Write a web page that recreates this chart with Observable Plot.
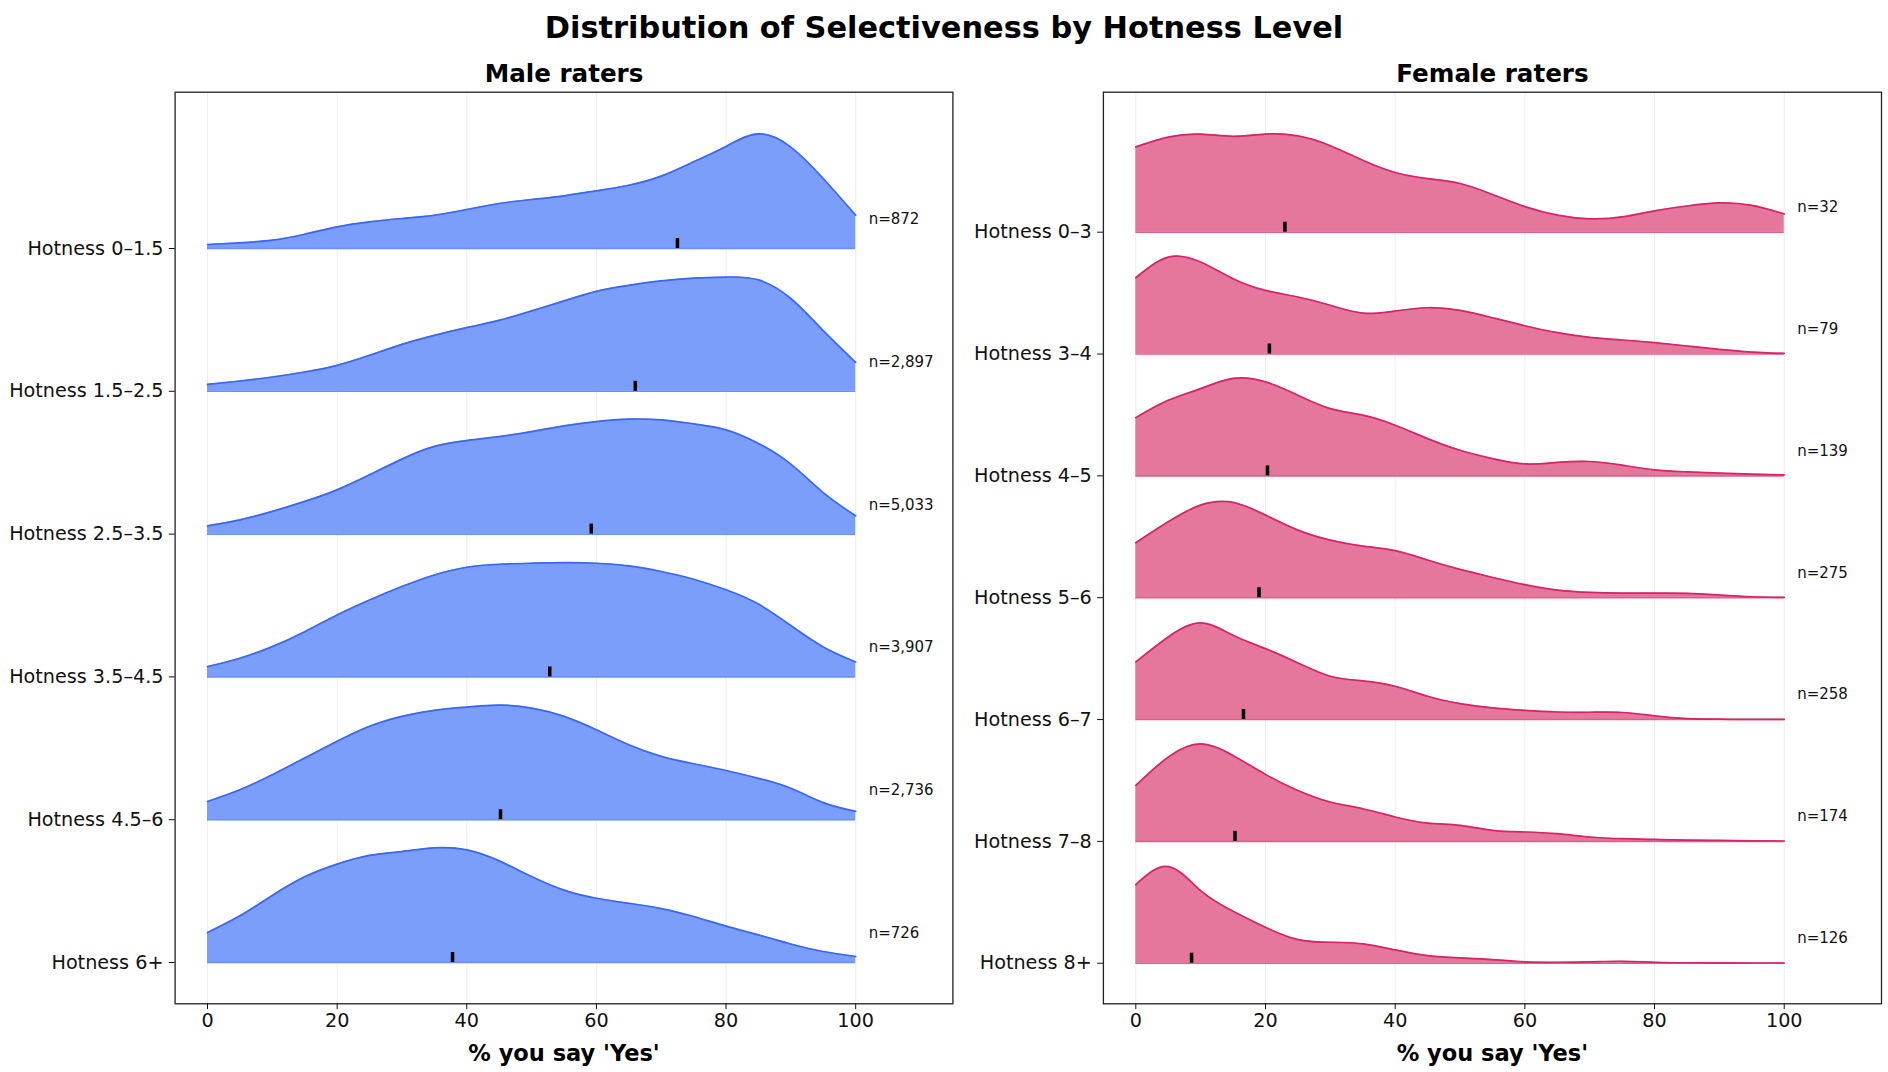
<!DOCTYPE html>
<html><head><meta charset="utf-8">
<script src="https://cdn.jsdelivr.net/npm/d3@7"></script>
<script src="https://cdn.jsdelivr.net/npm/@observablehq/plot@0.6"></script>
<style>
html,body{margin:0;padding:0;background:#fff;}
#wrap{position:relative;width:1888px;height:1072px;font-family:"DejaVu Sans",sans-serif;background:#fff;}
#title{position:absolute;left:0;top:0;width:1888px;height:52px;line-height:56px;text-align:center;font-weight:bold;font-size:30.4px;color:#000;}
#left{position:absolute;left:0;top:52px;}
#right{position:absolute;left:960px;top:52px;}
</style></head><body>
<div id="wrap"><div id="title">Distribution of Selectiveness by Hotness Level</div><div id="left"></div><div id="right"></div></div>
<script>
// x grid of the density curves (% you say 'Yes')
const xs = [0,5,10,15,20,25,30,35,40,45,50,55,60,65,70,75,80,85,90,95,100];
const xTicks = [0,20,40,60,80,100];

// ---- Male raters ----
const maleLabels = ["Hotness 0–1.5","Hotness 1.5–2.5","Hotness 2.5–3.5","Hotness 3.5–4.5","Hotness 4.5–6","Hotness 6+"];
const maleCounts = [872, 2897, 5033, 3907, 2736, 726];
const maleMedians = [72.5, 66.0, 59.2, 52.8, 45.2, 37.8];
const maleH0 = [0.028,0.04,0.058,0.10,0.152,0.187,0.21,0.233,0.273,0.315,0.343,0.369,0.404,0.443,0.507,0.607,0.715,0.803,0.71,0.49,0.233];
const maleH1 = [0.049,0.072,0.10,0.135,0.182,0.252,0.329,0.392,0.446,0.497,0.563,0.633,0.70,0.742,0.773,0.792,0.80,0.78,0.65,0.425,0.203];
const maleH2 = [0.058,0.10,0.159,0.229,0.31,0.415,0.525,0.614,0.655,0.683,0.718,0.758,0.788,0.805,0.80,0.772,0.73,0.635,0.49,0.29,0.128];
const maleH3 = [0.072,0.131,0.212,0.317,0.434,0.539,0.633,0.714,0.768,0.789,0.796,0.80,0.796,0.777,0.738,0.684,0.61,0.51,0.36,0.21,0.105];
const maleH4 = [0.128,0.21,0.315,0.432,0.549,0.654,0.724,0.766,0.789,0.803,0.782,0.724,0.63,0.525,0.444,0.392,0.345,0.29,0.22,0.12,0.058];
const maleH5 = [0.21,0.327,0.47,0.60,0.689,0.75,0.777,0.803,0.789,0.712,0.602,0.507,0.45,0.415,0.378,0.322,0.255,0.194,0.13,0.077,0.042];

// ---- Female raters ----
const femaleLabels = ["Hotness 0–3","Hotness 3–4","Hotness 4–5","Hotness 5–6","Hotness 6–7","Hotness 7–8","Hotness 8+"];
const femaleCounts = [32, 79, 139, 275, 258, 174, 126];
const femaleMedians = [23.0, 20.6, 20.3, 19.0, 16.6, 15.3, 8.6];
const femaleH0 = [0.70,0.78,0.805,0.787,0.805,0.79,0.71,0.59,0.49,0.44,0.40,0.31,0.21,0.14,0.11,0.125,0.175,0.215,0.24,0.22,0.15];
const femaleH1 = [0.626,0.795,0.755,0.618,0.522,0.468,0.40,0.336,0.353,0.38,0.358,0.298,0.232,0.175,0.137,0.115,0.093,0.066,0.038,0.016,0.005];
const femaleH2 = [0.478,0.62,0.716,0.80,0.771,0.662,0.552,0.498,0.416,0.306,0.21,0.142,0.098,0.11,0.118,0.088,0.049,0.033,0.022,0.014,0.008];
const femaleH3 = [0.451,0.623,0.76,0.782,0.678,0.555,0.473,0.424,0.386,0.309,0.232,0.167,0.107,0.063,0.044,0.038,0.038,0.036,0.022,0.008,0.003];
const femaleH4 = [0.473,0.678,0.793,0.692,0.582,0.465,0.355,0.317,0.273,0.191,0.131,0.096,0.075,0.062,0.06,0.058,0.03,0.008,0.003,0.001,0.001];
const femaleH5 = [0.459,0.692,0.80,0.705,0.55,0.418,0.323,0.268,0.20,0.15,0.131,0.09,0.077,0.063,0.036,0.022,0.016,0.011,0.008,0.005,0.003];
const femaleH6 = [0.645,0.793,0.596,0.427,0.295,0.194,0.172,0.159,0.109,0.063,0.044,0.03,0.011,0.008,0.011,0.016,0.008,0.004,0.003,0.002,0.002];

const fmt = d3.format(",");
const xDomain = [-5, 115];

function ridgePlot({title, labels, heights, medians, counts, fill, line, edge, yDomain, width, marginLeft, marginRight}) {
  const n = labels.length;
  const H = 1020, mt = 39.7, mb = 68.7;
  const pxPerUnit = (H - mt - mb) / (yDomain[1] - yDomain[0]);
  const pxPerX = (width - marginLeft - marginRight) / (xDomain[1] - xDomain[0]);
  const rows = [];
  heights.forEach((hs, k) => {
    const base = n - 1 - k;
    hs.forEach((h, j) => rows.push({k, base, x: xs[j], top: base + h}));
  });
  const meds = labels.map((label, k) => ({k, base: n - 1 - k, med: medians[k], n: counts[k]}));
  const curve = "natural";
  return Plot.plot({
    width, height: H, marginTop: mt, marginBottom: mb, marginLeft, marginRight,
    x: {domain: xDomain, axis: null},
    y: {domain: yDomain, axis: null},
    style: {fontFamily: "DejaVu Sans", fontSize: "19.2px", color: "#111", background: "#fff", overflow: "visible"},
    marks: [
      Plot.gridX(xTicks, {stroke: "#ededed", strokeOpacity: 1, strokeWidth: 1}),
      Plot.areaY(rows, {x: "x", y1: "base", y2: "top", z: "k", fill, curve}),
      Plot.ruleY(meds, {y: "base", x1: d3.min(xs), x2: d3.max(xs), stroke: edge, strokeWidth: 1.6}),
      Plot.lineY(rows, {x: "x", y: "top", z: "k", stroke: line, strokeWidth: 1.7, curve}),
      Plot.ruleX(meds, {x: "med", y1: "base", y2: d => d.base + 10 / pxPerUnit, stroke: "#000", strokeWidth: 3.5}),
      Plot.text(meds, {x: d3.max(xs), y: d => d.base + 0.205, dx: 2 * pxPerX, text: d => "n=" + fmt(d.n), textAnchor: "start", fontSize: 15, fill: "#111"}),
      Plot.frame({stroke: "#222", strokeWidth: 1.3}),
      Plot.axisX({ticks: xTicks, tickSize: 5.8, tickPadding: 4, fontSize: 19.2, label: null}),
      Plot.axisY({ticks: d3.range(n), tickFormat: i => labels[n - 1 - i], tickSize: 5.8, tickPadding: 5.8, fontSize: 19.2, label: null}),
      Plot.text([title], {frameAnchor: "top", dy: -28, text: d => d, fontSize: 24.6, fontWeight: "bold", fill: "#000"}),
      Plot.text(["% you say 'Yes'"], {frameAnchor: "bottom", dy: 57, text: d => d, fontSize: 22.5, fontWeight: "bold", fill: "#000"})
    ]
  });
}

document.getElementById("left").append(ridgePlot({
  title: "Male raters", labels: maleLabels,
  heights: [maleH0, maleH1, maleH2, maleH3, maleH4, maleH5],
  medians: maleMedians, counts: maleCounts,
  fill: "#7b9efb", line: "#3b66f5", edge: "#6b90f8",
  yDomain: [-0.289, 6.0945], width: 960, marginLeft: 174.6, marginRight: 7.6
}));
document.getElementById("right").append(ridgePlot({
  title: "Female raters", labels: femaleLabels,
  heights: [femaleH0, femaleH1, femaleH2, femaleH3, femaleH4, femaleH5, femaleH6],
  medians: femaleMedians, counts: femaleCounts,
  fill: "#e5769c", line: "#d6246b", edge: "#e0608d",
  yDomain: [-0.333, 7.149], width: 928, marginLeft: 142.9, marginRight: 7
}));
</script>
</body></html>
